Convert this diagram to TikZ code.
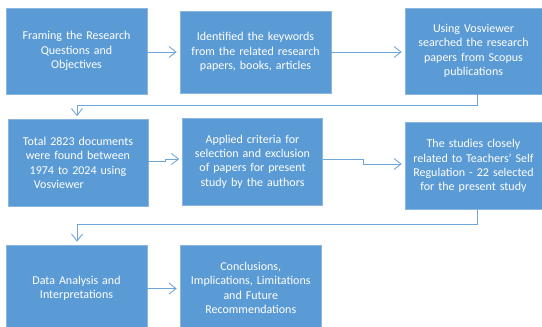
\documentclass[tikz,border=0pt]{standalone}
\usepackage{fontspec}
\setmainfont{Carlito}
\usetikzlibrary{arrows.meta}
\definecolor{boxblue}{HTML}{5B9BD5}
\definecolor{boxedge}{HTML}{8AB6E2}
\definecolor{linkblue}{HTML}{6FA6DA}
\tikzset{
  stepbox/.style={rectangle, fill=boxblue, draw=boxedge, line width=0.6pt, inner sep=0pt,
    text=white, align=center, font=\fontsize{12}{14.4}\selectfont},
  link/.style={draw=linkblue, line width=0.9pt, -{Straight Barb[length=7pt,width=11pt,line width=0.9pt]}, shorten >=3pt}
}
\begin{document}
\begin{tikzpicture}[x=1pt,y=-1pt]
\useasboundingbox (0,0) rectangle (542,327);
\node[stepbox, minimum width=141pt, minimum height=86pt, text width=136pt] (b1) at (76.5,51) {Framing the Research\\Questions and\\Objectives};
\node[stepbox, minimum width=151pt, minimum height=82pt, text width=146pt] (b2) at (255.5,52) {Identified the  keywords\\from the  related research\\papers, books, articles};
\node[stepbox, minimum width=137pt, minimum height=86pt, text width=134pt] (b3) at (473.5,51) {Using Vosviewer\\searched the  research\\papers from Scopus\\publications};
\node[stepbox, minimum width=140pt, minimum height=87pt, text width=136pt] (b4) at (78,163) {Total 2823 documents\\were found  between\\1974 to  2024 using\\Vosviewer\hspace*{3.2em}};
\node[stepbox, minimum width=140pt, minimum height=87pt, text width=136pt] (b5) at (252.5,161.5) {Applied criteria for\\selection and exclusion\\of papers for present\\study by the authors};
\node[stepbox, minimum width=137pt, minimum height=87pt, text width=134pt] (b6) at (473.5,166) {The  studies closely\\related to Teachers' Self\\Regulation - 22 selected\\for the  present study};
\node[stepbox, minimum width=141pt, minimum height=86pt, text width=136pt] (b7) at (76.5,288) {Data Analysis and\\Interpretations};
\node[stepbox, minimum width=141.5pt, minimum height=86pt, text width=138pt] (b8) at (250.75,288) {Conclusions,\\Implications, Limitations\\and Future\\Recommendations};
\coordinate (j1) at (477,105);
\coordinate (j2) at (477,224.7);
\draw[link] (b1.east |- 0,52) -- (b2.west |- 0,52);
\draw[link] (b2.east |- 0,52) -- (b3.west |- 0,52);
\draw[link] (b3.south -| j1) -- (j1) -| (b4.north -| 77,0);
\draw[link] (b4.east |- 0,161.3) -- (165,161.3) -- (165,159) -- (b5.west |- 0,159);
\draw[link] (b5.east |- 0,159.3) -- (363,159.3) -- (363,164) -- (b6.west |- 0,164);
\draw[link] (b6.south -| j2) -- (j2) -| (b7.north -| 77,0);
\draw[link] (b7.east |- 0,288.6) -- (b8.west |- 0,288.6);
\end{tikzpicture}
\end{document}
